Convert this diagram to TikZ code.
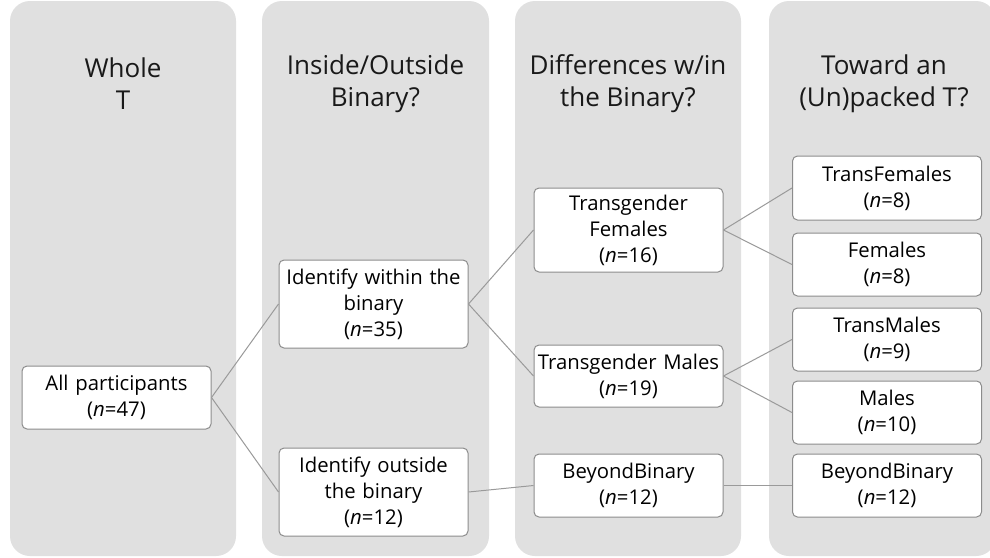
\documentclass[tikz,border=0pt]{standalone}
\usepackage{fontspec}
\setmainfont{Open Sans}
\definecolor{colgrey}{HTML}{E0E0E0}
\definecolor{boxborder}{HTML}{8C8C8C}
\definecolor{linegrey}{HTML}{9A9A9A}
\begin{document}
\begin{tikzpicture}[x=1pt,y=-1pt,
  col/.style={fill=colgrey, draw=none, rounded corners=20pt},
  box/.style={draw=boxborder, fill=white, rounded corners=5pt, line width=1pt,
    minimum width=189pt, text width=187pt, align=center,
    font=\fontsize{20.3}{26}\selectfont, inner sep=0pt},
  link/.style={draw=linegrey, line width=1pt},
  head/.style={align=center, font=\fontsize{26}{32}\selectfont, text=black!90}]
\useasboundingbox (0,0) rectangle (990,557);
\fill[white] (0,0) rectangle (990,557);
\begin{scope}
\clip (0,0) rectangle (990,557);
\fill[col] (10,1) rectangle (236,556);
\fill[col] (262,1) rectangle (489,556);
\fill[col] (515,1) rectangle (741,556);
\fill[col] (769,1) rectangle (996,556);
\end{scope}

\node[head] (h1) at (123,84) {Whole\\T};
\node[head] (h2) at (375.5,84) {Inside/Outside\\Binary?};
\node[head] (h3) at (628,84) {Differences w/in\\the Binary?};
\node[head] (h4) at (884,84) {Toward an\\(Un)packed T?};

\node[box, minimum height=63pt] (all) at (116.5,397.5) {All participants\\(\textit{n}=47)};
\node[box, minimum height=88pt] (within) at (373.5,304) {Identify within the\\binary\\(\textit{n}=35)};
\node[box, minimum height=88pt] (outside) at (373.5,492) {Identify outside\\the binary\\(\textit{n}=12)};
\node[box, minimum height=84pt] (tf) at (628.5,230) {Transgender\\Females\\(\textit{n}=16)};
\node[box, minimum height=62pt] (tm) at (628.5,376) {Transgender Males\\(\textit{n}=19)};
\node[box, minimum height=63pt] (bb3) at (628.5,485.5) {BeyondBinary\\(\textit{n}=12)};
\node[box, minimum height=64pt] (transf) at (887,188) {TransFemales\\(\textit{n}=8)};
\node[box, minimum height=63pt] (fem) at (887,264.5) {Females\\(\textit{n}=8)};
\node[box, minimum height=63pt] (transm) at (887,339.5) {TransMales\\(\textit{n}=9)};
\node[box, minimum height=63pt] (males) at (887,412.5) {Males\\(\textit{n}=10)};
\node[box, minimum height=63pt] (bb4) at (887,485.5) {BeyondBinary\\(\textit{n}=12)};

\draw[link] (all.east) -- (within.west);
\draw[link] (all.east) -- (outside.west);
\draw[link] (within.east) -- (tf.west);
\draw[link] (within.east) -- (tm.west);
\draw[link] (outside.east) -- (bb3.west);
\draw[link] (tf.east) -- (transf.west);
\draw[link] (tf.east) -- (fem.west);
\draw[link] (tm.east) -- (transm.west);
\draw[link] (tm.east) -- (males.west);
\draw[link] (bb3.east) -- (bb4.west);
\end{tikzpicture}
\end{document}
